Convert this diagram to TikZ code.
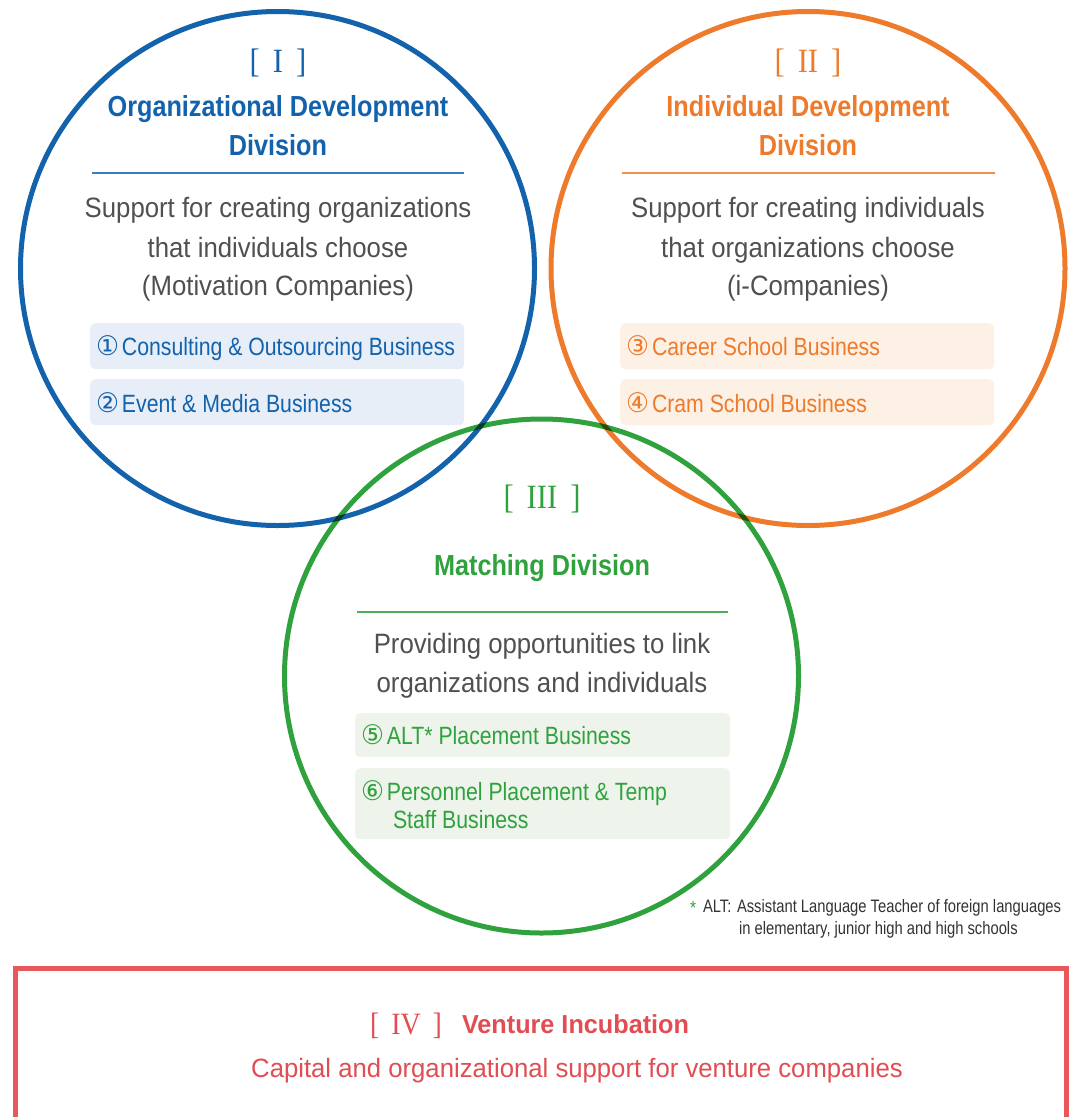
\documentclass[tikz,border=0pt]{standalone}
\usepackage{fontspec}
\setmainfont{Liberation Sans}
\newfontfamily\fBody{Liberation Sans}[FakeStretch=0.92]
\newfontfamily\fBox{Liberation Sans}[FakeStretch=0.85]
\newfontfamily\fTitle{Liberation Sans}[FakeStretch=0.87]
\newfontfamily\fFoot{Liberation Sans}[FakeStretch=0.82]
\newfontfamily\fRed{Liberation Sans}[FakeStretch=0.97]
\newfontfamily\fSerif{Liberation Serif}[FakeStretch=0.9]
\newfontfamily\fCirc{DejaVu Sans}[FakeStretch=0.95]
\definecolor{cblue}{HTML}{1362AC}
\definecolor{corange}{HTML}{EE7A2B}
\definecolor{cgreen}{HTML}{2FA23D}
\definecolor{cred}{HTML}{E8575A}
\definecolor{tred}{HTML}{E14D52}
\definecolor{tgray}{HTML}{505050}
\definecolor{tfoot}{HTML}{333333}
\definecolor{fblue}{HTML}{E8EEF7}
\definecolor{forange}{HTML}{FDF1E6}
\definecolor{fgreen}{HTML}{EEF4EC}
\definecolor{rblue}{HTML}{3A7DC0}
\definecolor{rorange}{HTML}{F09050}
\definecolor{rgreen}{HTML}{4DB05A}
\tikzset{
  ring/.style={circle, line width=5pt, inner sep=0pt, minimum size=514pt},
  txt/.style={inner sep=0pt, outer sep=0pt},
  numtxt/.style={txt, anchor=base, font=\fSerif\fontsize{34}{34}\selectfont},
  titletxt/.style={txt, anchor=base, font=\fTitle\bfseries\fontsize{29}{29}\selectfont},
  bodytxt/.style={txt, anchor=base, text=tgray, font=\fBody\fontsize{28}{28}\selectfont},
  bizbox/.style={rounded corners=5pt, inner sep=0pt, minimum width=374pt, anchor=north west},
  boxtxt/.style={txt, anchor=base west, font=\fBox\fontsize{25}{25}\selectfont},
  footxt/.style={txt, anchor=base west, text=tfoot, font=\fFoot\fontsize{18}{18}\selectfont},
  divrule/.style={line width=1.3pt},
}
\newcommand{\cdig}[1]{{\fCirc\fontsize{27}{27}\selectfont #1}\hspace{3pt}}
\begin{document}
\begin{tikzpicture}[x=1pt,y=-1pt]
\useasboundingbox (0,0) rectangle (1072,1117);
\clip (0,0) rectangle (1072,1117);
\fill[white] (0,0) rectangle (1072,1117);

% circles
\begin{scope}[blend mode=multiply]
\node[ring, draw=cblue] (c1) at (277.5,268.5) {};
\node[ring, draw=corange] (c2) at (808,268.5) {};
\node[ring, draw=cgreen] (c3) at (541.5,676) {};
\end{scope}

% ---------- I ----------
\node[numtxt, text=cblue] (n1) at (278,72) {[\hspace{13pt}I\hspace{13pt}]};
\node[titletxt, text=cblue] (t1a) at (278,116) {Organizational Development};
\node[titletxt, text=cblue] (t1b) at (278,155) {Division};
\draw[divrule, rblue] (92,173) -- (464,173);
\node[bodytxt] (d1a) at (278,217) {Support for creating organizations};
\node[bodytxt] (d1b) at (278,257) {that individuals choose};
\node[bodytxt] (d1c) at (278,295) {(Motivation Companies)};
\node[bizbox, fill=fblue, minimum height=46pt] (b1) at (90,323) {};
\node[bizbox, fill=fblue, minimum height=46pt] (b2) at (90,379) {};
\node[boxtxt, text=cblue] (b1t) at (96,355) {\cdig{①}Consulting \& Outsourcing Business};
\node[boxtxt, text=cblue] (b2t) at (96,412) {\cdig{②}Event \& Media Business};

% ---------- II ----------
\node[numtxt, text=corange] (n2) at (808,72) {[\hspace{13pt}II\hspace{13pt}]};
\node[titletxt, text=corange] (t2a) at (808,116) {Individual Development};
\node[titletxt, text=corange] (t2b) at (808,155) {Division};
\draw[divrule, rorange] (622,173) -- (995,173);
\node[bodytxt] (d2a) at (808,217) {Support for creating individuals};
\node[bodytxt] (d2b) at (808,257) {that organizations choose};
\node[bodytxt] (d2c) at (808,295) {(i-Companies)};
\node[bizbox, fill=forange, minimum height=46pt] (b3) at (620,323) {};
\node[bizbox, fill=forange, minimum height=46pt] (b4) at (620,379) {};
\node[boxtxt, text=corange] (b3t) at (626,355) {\cdig{③}Career School Business};
\node[boxtxt, text=corange] (b4t) at (626,412) {\cdig{④}Cram School Business};

% ---------- III ----------
\node[numtxt, text=cgreen] (n3) at (542,508) {[\hspace{13pt}III\hspace{13pt}]};
\node[titletxt, text=cgreen] (t3) at (542,575) {Matching Division};
\draw[divrule, rgreen] (357,612) -- (728,612);
\node[bodytxt] (d3a) at (542,653) {Providing opportunities to link};
\node[bodytxt] (d3b) at (542,692) {organizations and individuals};
\node[bizbox, fill=fgreen, minimum width=375pt, minimum height=44pt] (b5) at (355,713) {};
\node[bizbox, fill=fgreen, minimum width=375pt, minimum height=71pt] (b6) at (355,768) {};
\node[boxtxt, text=cgreen] (b5t) at (361,744) {\cdig{⑤}ALT* Placement Business};
\node[boxtxt, text=cgreen] (b6t) at (361,800) {\cdig{⑥}Personnel Placement \& Temp};
\node[boxtxt, text=cgreen] (b6u) at (393,828) {Staff Business};

% ---------- footnote ----------
\node[footxt, text=cgreen, font=\fFoot\fontsize{19}{19}\selectfont] (fa) at (690,914) {*};
\node[footxt] (fb) at (703,912) {ALT:};
\node[footxt] (fc) at (737,912) {Assistant Language Teacher of foreign languages};
\node[footxt] (fd) at (739,934) {in elementary, junior high and high schools};

% ---------- IV ----------
\draw[cred, line width=5pt] (15,968) rectangle (1066,1119);
\node[txt, anchor=base west, text=tred, font=\fSerif\fontsize{31}{31}\selectfont] (n4) at (370,1034) {[\hspace{12pt}IV\hspace{12pt}]};
\node[txt, anchor=base west, text=tred, font=\fRed\bfseries\fontsize{26}{26}\selectfont] (t4) at (462,1033) {Venture Incubation};
\node[txt, anchor=base, text=tred, font=\fRed\fontsize{26.5}{26.5}\selectfont] (d4) at (577,1077) {Capital and organizational support for venture companies};
\end{tikzpicture}
\end{document}
